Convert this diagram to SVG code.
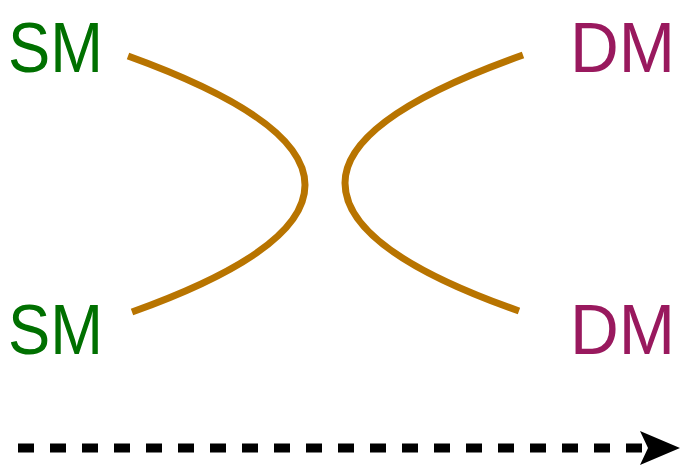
<svg xmlns="http://www.w3.org/2000/svg" width="697" height="472" viewBox="0 0 697 472">
<style>
.lbl{font-family:"Liberation Sans","DejaVu Sans",sans-serif;font-size:70px}
.sm{fill:#007000}
.dm{fill:#99195e}
.c{fill:none;stroke:#b87400;stroke-width:7}
</style>
<defs>
<marker id="ah" markerUnits="userSpaceOnUse" markerWidth="44" markerHeight="36" refX="8" refY="17" orient="auto">
<polygon points="0,0 40,17 0,34 8,17" fill="#000"/>
</marker>
</defs>
<rect width="697" height="472" fill="#fff"/>
<g id="sm-top"><text class="lbl sm" x="8" y="72" textLength="95" lengthAdjust="spacingAndGlyphs">SM</text></g>
<g id="dm-top"><text class="lbl dm" x="570" y="72" textLength="105" lengthAdjust="spacingAndGlyphs">DM</text></g>
<g id="sm-bot"><text class="lbl sm" x="8" y="354" textLength="95" lengthAdjust="spacingAndGlyphs">SM</text></g>
<g id="dm-bot"><text class="lbl dm" x="570" y="354" textLength="105" lengthAdjust="spacingAndGlyphs">DM</text></g>
<g id="connectors">
<path class="c" d="M128,56 Q305,120 305,185 Q305,250 132,312"/>
<path class="c" d="M523,55 Q345,118 345,183 Q345,250 519,311"/>
<line x1="18" y1="448" x2="648" y2="448" stroke="#000" stroke-width="9" stroke-dasharray="16 16" marker-end="url(#ah)"/>
</g>
</svg>
